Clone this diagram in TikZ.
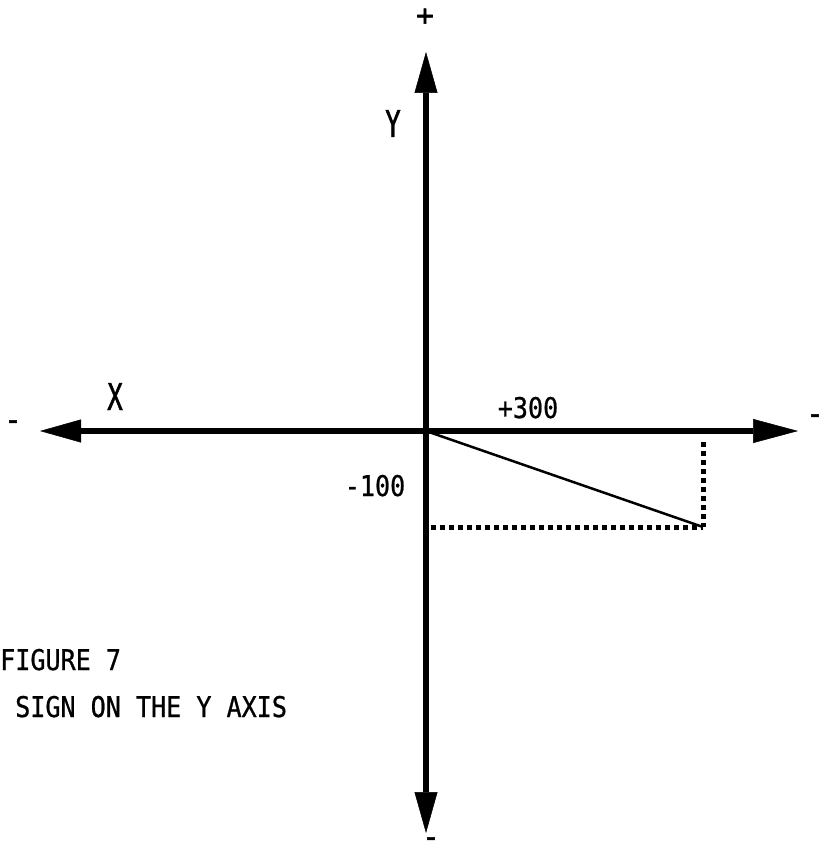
\documentclass[tikz,border=0pt]{standalone}
\usepackage{fontspec}
\newfontfamily\lblfont{DejaVu Sans Mono}[FakeStretch=0.88,FakeBold=0.8]
\newfontfamily\signfont{DejaVu Sans Mono}[FakeBold=2]
\newfontfamily\xyfont{DejaVu Sans Mono}[FakeStretch=0.7,FakeBold=1.2]
\usetikzlibrary{arrows.meta}
\tikzset{
  axisline/.style={line width=6pt, -{Triangle[length=41pt,width=23pt,line width=0.5pt]}},
  hyp/.style={line width=2.5pt},
  dotline/.style={line width=5pt, dash pattern=on 5pt off 4pt},
  lbl/.style={inner sep=0pt, font=\lblfont\fontsize{28.5}{31}\selectfont},
  sign/.style={inner sep=0pt, font=\signfont\fontsize{29}{30}\selectfont},
  axislbl/.style={inner sep=0pt, font=\xyfont\fontsize{37}{40}\selectfont}
}
\begin{document}
\begin{tikzpicture}[x=1pt,y=-1pt]
\useasboundingbox (0,0) rectangle (825,853);
% points
\coordinate (O) at (426,431);
\coordinate (ytop) at (426,52);
\coordinate (ybot) at (426,833);
\coordinate (xleft) at (40,431);
\coordinate (xright) at (798,431);
\coordinate (P) at (703,527);
\coordinate (Pa) at (703,442);
\coordinate (Pb) at (431,527);
% axes
\draw[axisline] (O) -- (ytop);
\draw[axisline] (O) -- (ybot);
\draw[axisline] (O) -- (xleft);
\draw[axisline, -{Triangle[length=45pt,width=24pt,line width=0.5pt]}] (O) -- (xright);
% vector and components
\draw[hyp] (O) -- (P);
\draw[dotline] (Pa) -- (P);
\draw[dotline] (Pb) -- (P);
% labels
\node[sign] (plustop) at (425,17) {+};
\node[sign] (minbot) at (431,842) {-};
\node[sign] (minleft) at (13,425) {-};
\node[sign] (minright) at (815,419) {-};
\node[axislbl, anchor=base] (ylab) at (393,137) {Y};
\node[axislbl, anchor=base] (xlab) at (115,410) {X};
\node[lbl, anchor=base] (p300) at (528,418) {+300};
\node[lbl, anchor=base] (m100) at (375,496) {-100};
\node[lbl, anchor=base west] (fig) at (0,670) {FIGURE 7};
\node[lbl, anchor=base west] (cap) at (15,717) {SIGN ON THE Y AXIS};
\end{tikzpicture}
\end{document}
